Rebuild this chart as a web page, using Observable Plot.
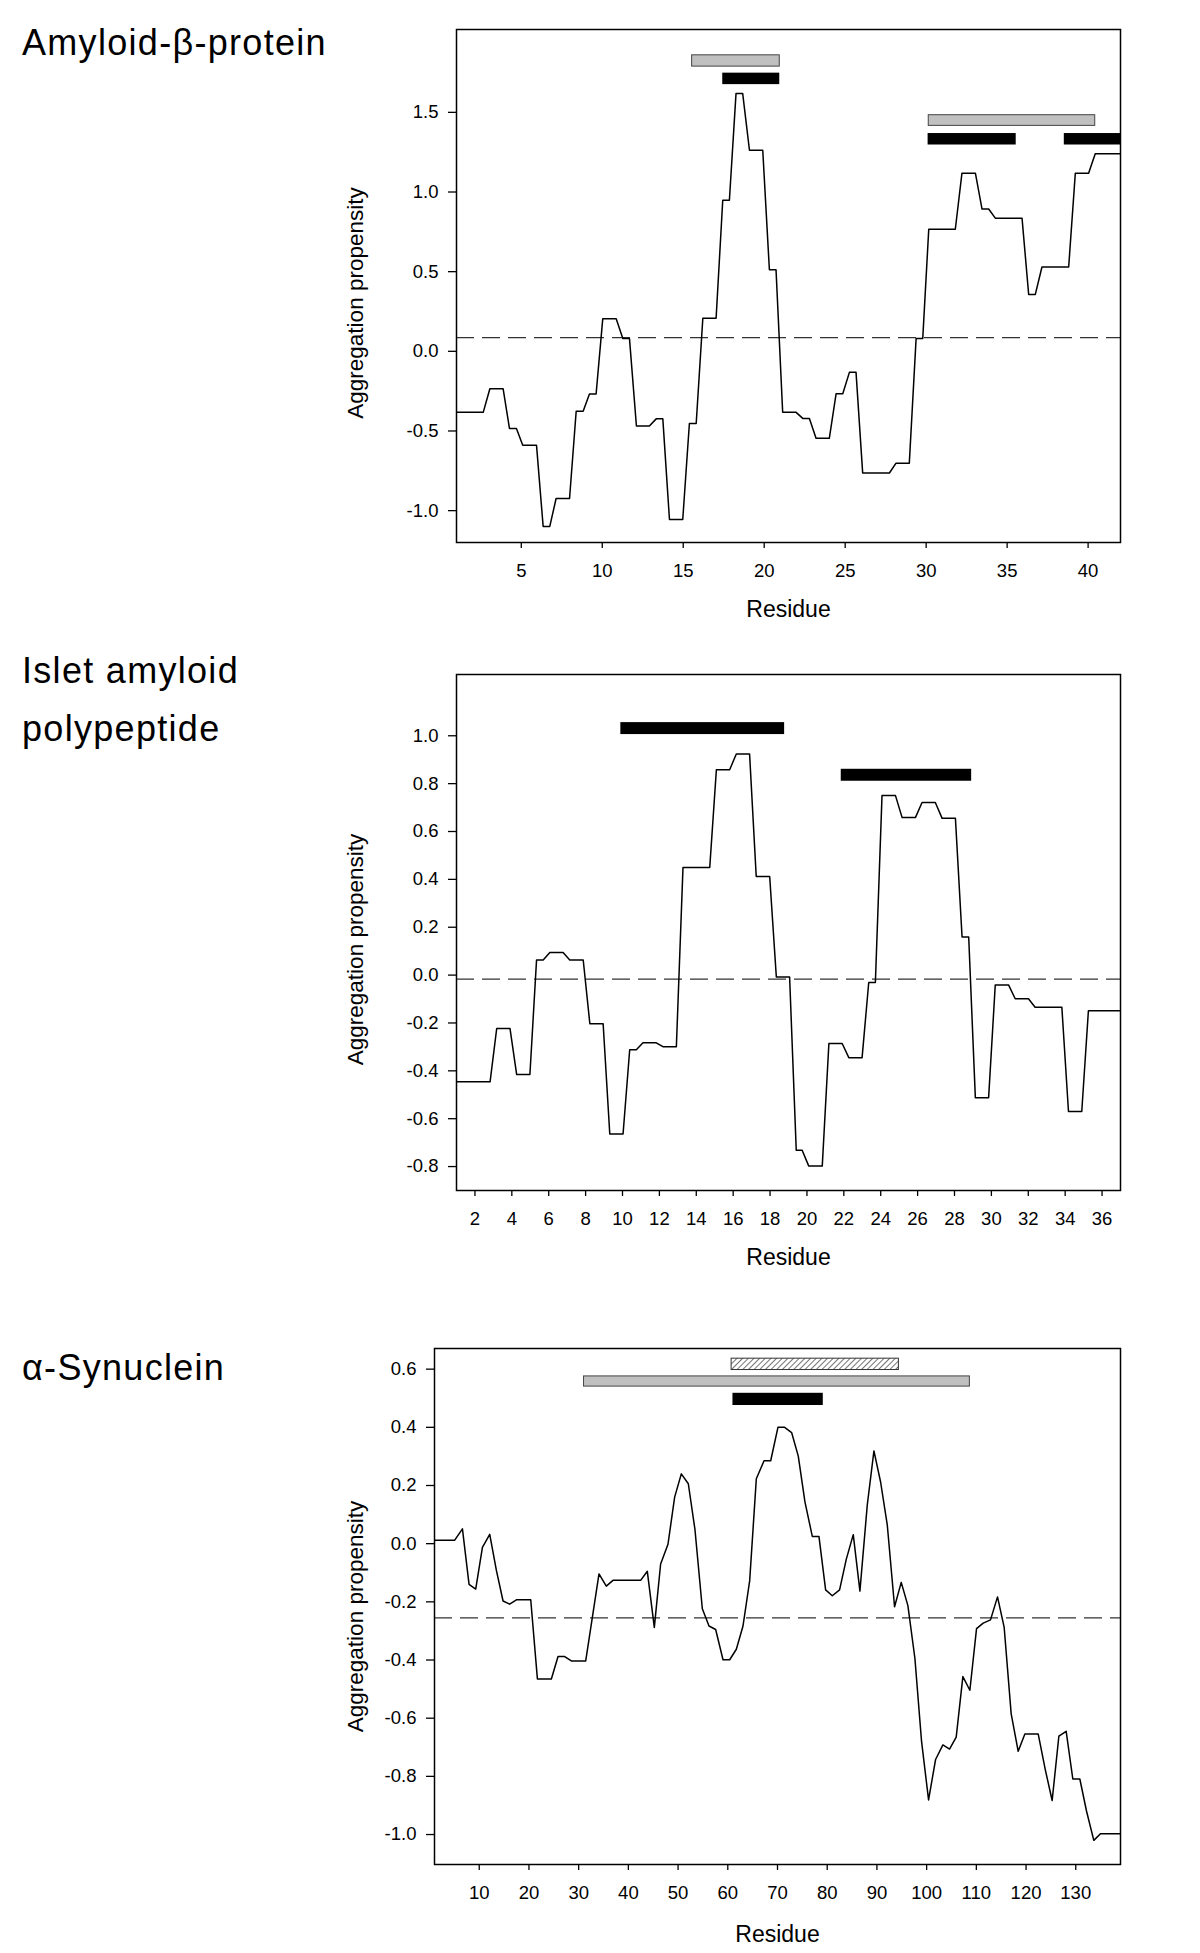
<!DOCTYPE html>
<html>
<head>
<meta charset="utf-8">
<script src="https://cdn.jsdelivr.net/npm/d3@7"></script>
<script src="https://cdn.jsdelivr.net/npm/@observablehq/plot@0.6"></script>
<style>
  body { margin: 0; background: #fff; }
  #root { position: relative; width: 1200px; height: 1953px; font-family: "Liberation Sans", Arial, sans-serif; color: #000; }
  .title { position: absolute; left: 22px; font-size: 36px; letter-spacing: 1.3px; line-height: 36px; white-space: nowrap; }
  .panel { position: absolute; left: 0; }
</style>
</head>
<body>
<div id="root"></div>
<script>
// ---------- Panel 1: Amyloid-β-protein ----------
const abX = [1.0, 2.65, 3.06, 3.88, 4.27, 4.70, 5.09, 5.94, 6.35, 6.76, 7.15, 7.98, 8.39, 8.82, 9.21, 9.62, 10.03, 10.86, 11.27, 11.68, 12.11, 12.91, 13.33, 13.74, 14.15, 14.97, 15.38, 15.80, 16.21, 17.03, 17.44, 17.85, 18.26, 18.67, 19.09, 19.91, 20.32, 20.73, 21.14, 21.97, 22.38, 22.79, 23.20, 24.02, 24.44, 24.85, 25.26, 25.67, 26.08, 27.73, 28.14, 28.96, 29.38, 29.79, 30.16, 31.80, 32.21, 33.04, 33.45, 33.86, 34.27, 35.92, 36.33, 36.74, 37.15, 38.80, 39.21, 40.03, 40.44, 42.09];
const abY = [-0.383, -0.383, -0.235, -0.235, -0.484, -0.484, -0.589, -0.589, -1.099, -1.099, -0.924, -0.924, -0.376, -0.376, -0.268, -0.268, 0.204, 0.204, 0.081, 0.081, -0.469, -0.469, -0.424, -0.424, -1.056, -1.056, -0.453, -0.453, 0.208, 0.208, 0.948, 0.948, 1.619, 1.619, 1.262, 1.262, 0.512, 0.512, -0.383, -0.383, -0.421, -0.421, -0.546, -0.546, -0.266, -0.266, -0.132, -0.132, -0.764, -0.764, -0.702, -0.702, 0.081, 0.081, 0.766, 0.766, 1.118, 1.118, 0.893, 0.893, 0.836, 0.836, 0.357, 0.357, 0.529, 0.529, 1.118, 1.118, 1.240, 1.240];
const abThreshold = 0.086;
const abBarStart = [15.55, 17.44, 30.16, 30.12, 38.53];
const abBarEnd   = [20.96, 20.96, 40.44, 35.56, 42.2];
const abBarLow   = [1.787, 1.674, 1.415, 1.295, 1.295];
const abBarHigh  = [1.858, 1.746, 1.482, 1.367, 1.367];
const abBarKind  = ["gray", "black", "gray", "black", "black"];
const abXDomain = [1, 42];
const abYDomain = [-1.2, 2.02];
const abXTicks = [5, 10, 15, 20, 25, 30, 35, 40];
const abYTicks = [-1.0, -0.5, 0.0, 0.5, 1.0, 1.5];

// ---------- Panel 2: Islet amyloid polypeptide ----------
const iaX = [1.01, 2.82, 3.18, 3.90, 4.26, 4.98, 5.34, 5.70, 6.06, 6.78, 7.14, 7.87, 8.23, 8.95, 9.31, 10.03, 10.39, 10.75, 11.11, 11.83, 12.19, 12.92, 13.28, 14.73, 15.09, 15.81, 16.17, 16.89, 17.25, 17.98, 18.34, 19.06, 19.42, 19.74, 20.10, 20.83, 21.19, 21.91, 22.27, 22.99, 23.35, 23.71, 24.07, 24.80, 25.16, 25.88, 26.24, 26.96, 27.33, 28.05, 28.41, 28.77, 29.13, 29.85, 30.21, 30.93, 31.29, 32.01, 32.37, 33.82, 34.18, 34.90, 35.26, 37.05];
const iaY = [-0.446, -0.446, -0.223, -0.223, -0.415, -0.415, 0.063, 0.063, 0.094, 0.094, 0.063, 0.063, -0.203, -0.203, -0.664, -0.664, -0.312, -0.312, -0.283, -0.283, -0.299, -0.299, 0.450, 0.450, 0.858, 0.858, 0.924, 0.924, 0.412, 0.412, -0.008, -0.008, -0.732, -0.732, -0.798, -0.798, -0.286, -0.286, -0.345, -0.345, -0.031, -0.031, 0.750, 0.750, 0.658, 0.658, 0.721, 0.721, 0.655, 0.655, 0.159, 0.159, -0.512, -0.512, -0.041, -0.041, -0.099, -0.099, -0.134, -0.134, -0.570, -0.570, -0.149, -0.149];
const iaThreshold = -0.017;
const iaBarStart = [9.91, 21.86];
const iaBarEnd   = [18.79, 28.93];
const iaBarLow   = [1.005, 0.810];
const iaBarHigh  = [1.055, 0.860];
const iaBarKind  = ["black", "black"];
const iaXDomain = [1, 37];
const iaYDomain = [-0.90, 1.256];
const iaXTicks = [2, 4, 6, 8, 10, 12, 14, 16, 18, 20, 22, 24, 26, 28, 30, 32, 34, 36];
const iaYTicks = [-0.8, -0.6, -0.4, -0.2, 0.0, 0.2, 0.4, 0.6, 0.8, 1.0];

// ---------- Panel 3: α-Synuclein ----------
const synX = [1.0, 5.07, 6.62, 7.95, 9.29, 10.64, 12.11, 13.45, 14.79, 16.13, 17.47, 20.36, 21.70, 24.51, 25.85, 27.19, 28.53, 31.42, 34.09, 35.56, 36.90, 42.47, 43.81, 45.22, 46.49, 47.97, 49.31, 50.65, 52.06, 53.40, 54.88, 56.22, 57.56, 59.04, 60.38, 61.72, 63.06, 64.40, 65.74, 67.29, 68.63, 70.09, 71.44, 72.84, 74.18, 75.52, 77.00, 78.34, 79.68, 81.02, 82.49, 83.83, 85.24, 86.58, 88.06, 89.40, 90.74, 92.08, 93.55, 94.89, 96.23, 97.64, 98.98, 100.39, 101.80, 103.27, 104.61, 105.95, 107.29, 108.70, 110.04, 111.38, 112.85, 114.26, 115.60, 117.01, 118.42, 119.76, 122.44, 123.91, 125.25, 126.60, 128.07, 129.41, 130.82, 132.16, 133.63, 134.97, 139.1];
const synY = [0.012, 0.012, 0.051, -0.140, -0.156, -0.013, 0.032, -0.092, -0.197, -0.208, -0.193, -0.193, -0.465, -0.465, -0.388, -0.388, -0.403, -0.403, -0.104, -0.146, -0.126, -0.126, -0.095, -0.288, -0.070, -0.002, 0.160, 0.240, 0.206, 0.048, -0.224, -0.283, -0.295, -0.399, -0.399, -0.363, -0.283, -0.128, 0.223, 0.285, 0.285, 0.400, 0.400, 0.382, 0.301, 0.144, 0.025, 0.025, -0.159, -0.179, -0.159, -0.054, 0.031, -0.163, 0.133, 0.319, 0.212, 0.065, -0.217, -0.133, -0.213, -0.394, -0.680, -0.881, -0.742, -0.692, -0.706, -0.665, -0.457, -0.504, -0.292, -0.273, -0.262, -0.183, -0.288, -0.585, -0.714, -0.654, -0.654, -0.780, -0.883, -0.662, -0.645, -0.809, -0.809, -0.919, -1.020, -0.997, -0.997];
const synThreshold = -0.255;
const synBarStart = [60.77, 31.08, 61.04];
const synBarEnd   = [94.42, 108.7, 79.21];
const synBarLow   = [0.597, 0.540, 0.475];
const synBarHigh  = [0.636, 0.575, 0.517];
const synBarKind  = ["hatched", "gray", "black"];
const synXDomain = [1, 139];
const synYDomain = [-1.103, 0.671];
const synXTicks = [10, 20, 30, 40, 50, 60, 70, 80, 90, 100, 110, 120, 130];
const synYTicks = [-1.0, -0.8, -0.6, -0.4, -0.2, 0.0, 0.2, 0.4, 0.6];

const xLabel = "Residue";
const yLabel = "Aggregation propensity";

// ---------- drawing ----------
const root = document.getElementById("root");

function addTitle(html, top, lineHeight) {
  const d = document.createElement("div");
  d.className = "title";
  d.style.top = top + "px";
  if (lineHeight) d.style.lineHeight = lineHeight + "px";
  d.innerHTML = html;
  root.appendChild(d);
}

function makePanel(cfg) {
  const line = cfg.xs.map((x, i) => ({x, y: cfg.ys[i]}));
  const bars = cfg.bStart.map((s, i) => ({x1: s, x2: cfg.bEnd[i], y1: cfg.bLow[i], y2: cfg.bHigh[i], kind: cfg.bKind[i]}));
  const svg = Plot.plot({
    width: 1200,
    height: cfg.height,
    marginLeft: cfg.ml, marginRight: cfg.mr, marginTop: cfg.mt, marginBottom: cfg.mb,
    x: {domain: cfg.xDomain},
    y: {domain: cfg.yDomain},
    style: {fontFamily: "'Liberation Sans', Arial, sans-serif", fontSize: "18.5px", color: "#000", background: "transparent", overflow: "visible"},
    marks: [
      Plot.ruleY([cfg.threshold], {stroke: "#333", strokeWidth: 1.2, strokeDasharray: "18,8"}),
      Plot.line(line, {x: "x", y: "y", stroke: "#000", strokeWidth: 1.5, clip: true}),
      Plot.rect(bars.filter(d => d.kind === "hatched"), {x1: "x1", x2: "x2", y1: "y1", y2: "y2", fill: "url(#hatch)", stroke: "#333", strokeWidth: 1, clip: true}),
      Plot.rect(bars.filter(d => d.kind === "gray"), {x1: "x1", x2: "x2", y1: "y1", y2: "y2", fill: "#c0c0c0", stroke: "#444", strokeWidth: 1, clip: true}),
      Plot.rect(bars.filter(d => d.kind === "black"), {x1: "x1", x2: "x2", y1: "y1", y2: "y2", fill: "#000", clip: true}),
      Plot.frame({stroke: "#000", strokeWidth: 1.5}),
      Plot.axisX({ticks: cfg.xTicks, tickSize: 6, tickPadding: 15, strokeWidth: 1.3, tickFormat: d => String(d), label: null}),
      Plot.axisY({ticks: cfg.yTicks, tickSize: 8, tickPadding: 10, strokeWidth: 1.3, tickFormat: d => d.toFixed(1), label: null}),
      Plot.text([xLabel], {text: d => d, frameAnchor: "bottom", dy: cfg.xLabelDy, fontSize: 23, textAnchor: "middle", lineAnchor: "middle"}),
      Plot.text([yLabel], {text: d => d, frameAnchor: "left", dx: cfg.yLabelDx, dy: cfg.yLabelDy, rotate: -90, fontSize: 22.5, textAnchor: "middle", lineAnchor: "middle"})
    ]
  });
  if (cfg.hatch) {
    const defs = d3.select(svg).insert("defs", ":first-child");
    const p = defs.append("pattern").attr("id", "hatch").attr("patternUnits", "userSpaceOnUse")
      .attr("width", 4).attr("height", 4).attr("patternTransform", "rotate(45)");
    p.append("rect").attr("width", 4).attr("height", 4).attr("fill", "#fff");
    p.append("line").attr("x1", 0).attr("y1", 0).attr("x2", 0).attr("y2", 4).attr("stroke", "#000").attr("stroke-width", 1.1);
  }
  svg.classList.add("panel");
  svg.style.top = cfg.top + "px";
  root.appendChild(svg);
}

makePanel({xs: abX, ys: abY, threshold: abThreshold, bStart: abBarStart, bEnd: abBarEnd, bLow: abBarLow, bHigh: abBarHigh, bKind: abBarKind,
  xDomain: abXDomain, yDomain: abYDomain, xTicks: abXTicks, yTicks: abYTicks,
  top: 0, height: 640, ml: 456, mr: 80, mt: 29, mb: 98, xLabelDy: 67, yLabelDx: -101, yLabelDy: 17});
makePanel({xs: iaX, ys: iaY, threshold: iaThreshold, bStart: iaBarStart, bEnd: iaBarEnd, bLow: iaBarLow, bHigh: iaBarHigh, bKind: iaBarKind,
  xDomain: iaXDomain, yDomain: iaYDomain, xTicks: iaXTicks, yTicks: iaYTicks,
  top: 640, height: 640, ml: 456, mr: 80, mt: 34, mb: 90, xLabelDy: 67, yLabelDx: -101, yLabelDy: 17});
makePanel({xs: synX, ys: synY, threshold: synThreshold, bStart: synBarStart, bEnd: synBarEnd, bLow: synBarLow, bHigh: synBarHigh, bKind: synBarKind,
  xDomain: synXDomain, yDomain: synYDomain, xTicks: synXTicks, yTicks: synYTicks,
  top: 1280, height: 673, ml: 434, mr: 80, mt: 68, mb: 89, xLabelDy: 70, yLabelDx: -79, yLabelDy: 10, hatch: true});

addTitle("Amyloid-β-protein", 24.5);
addTitle("Islet amyloid<br>polypeptide", 642, 58);
addTitle("α-Synuclein", 1349.5);
</script>
</body>
</html>
